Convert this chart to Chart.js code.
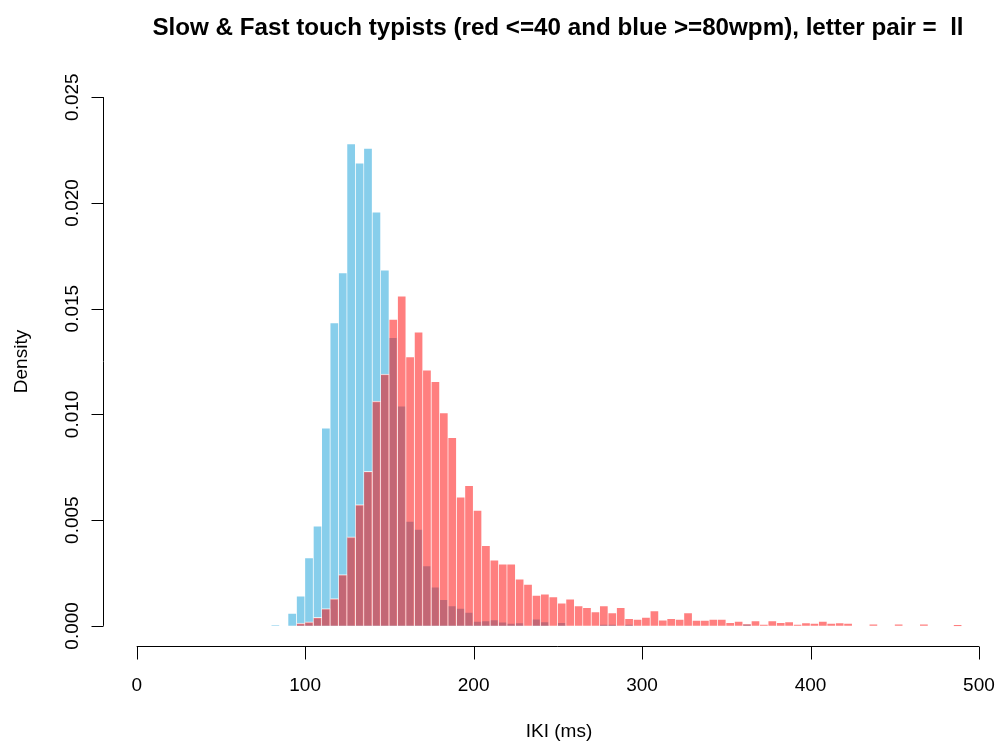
<!DOCTYPE html>
<html>
<head>
<meta charset="utf-8">
<script src="https://cdn.jsdelivr.net/npm/chart.js@4/dist/chart.umd.min.js"></script>
<style>
  html, body { margin: 0; padding: 0; background: #fff; }
  canvas { display: block; }
</style>
</head>
<body>
<canvas id="histChart" width="998" height="742"></canvas>
<script>
// bin start (ms), bins are 5 ms wide
const binStarts = [80, 85, 90, 95, 100, 105, 110, 115, 120, 125, 130, 135, 140, 145, 150, 155, 160, 165, 170, 175,
    180, 185, 190, 195, 200, 205, 210, 215, 220, 225, 230, 235, 240, 245, 250, 255, 260, 265, 270, 275,
    280, 285, 290, 295, 300, 305, 310, 315, 320, 325, 330, 335, 340, 345, 350, 355, 360, 365, 370, 375,
    380, 385, 390, 395, 400, 405, 410, 415, 420, 425, 430, 435, 440, 445, 450, 455, 460, 465, 470, 475,
    480, 485];
const binWidth = 5;

// slow typists (<=40 wpm)
const slowDensity = [0, 0, 0, 0.00013, 0.00019, 0.0004, 0.00082, 0.00129, 0.00243, 0.00421, 0.00573, 0.00731, 0.01063, 0.01191, 0.0145, 0.0156, 0.01273, 0.0139, 0.01211, 0.01156,
    0.01008, 0.00892, 0.0061, 0.00665, 0.00548, 0.00381, 0.00312, 0.00293, 0.00293, 0.00222, 0.00197, 0.00145, 0.00151, 0.00139, 0.00109, 0.00128, 0.00096, 0.00087, 0.00068, 0.00096,
    0.00063, 0.00087, 0.00036, 0.00032, 0.00041, 0.00072, 0.00028, 0.00035, 0.00032, 0.00063, 0.00027, 0.00027, 0.00032, 0.00032, 0.00017, 0.00022, 0.00011, 0.00025, 0.00008, 0.00025,
    0.00017, 0.0002, 0.00008, 0.00015, 0.00013, 0.00023, 0.00013, 0.00015, 0.00013, 0, 0, 0.0001, 0, 0, 0.0001, 0, 0, 0.0001, 0, 0,
    0, 0.00006];

// fast typists (>=80 wpm)
const fastDensity = [0.00003, 0, 0.0006, 0.00142, 0.00323, 0.00473, 0.00936, 0.01434, 0.0167, 0.02281, 0.0219, 0.02259, 0.01958, 0.01684, 0.01364, 0.0104, 0.00496, 0.00457, 0.00285, 0.00184,
    0.00126, 0.00096, 0.00084, 0.00065, 0.00022, 0.00025, 0.0003, 0.00019, 0.00013, 0.00015, 0, 0.00033, 0.0002, 0, 0.00017, 0, 0, 0, 0, 0.00008,
    0.00008, 0, 0.00008, 0, 0, 0, 0, 0, 0, 0, 0, 0, 0, 0, 0, 0, 0.00011, 0, 0, 0,
    0, 0, 0, 0, 0, 0, 0, 0, 0, 0, 0, 0, 0, 0, 0, 0, 0, 0, 0, 0,
    0, 0];

const xTicks = [0, 100, 200, 300, 400, 500];
const yTicks = [0, 0.005, 0.010, 0.015, 0.020, 0.025];
const yTickLabels = ['0.000', '0.005', '0.010', '0.015', '0.020', '0.025'];

const titleText = 'Slow & Fast touch typists (red <=40 and blue >=80wpm), letter pair =  ll';
const fontFamily = '"Liberation Sans", Arial, Helvetica, sans-serif';

function toPoints(values) {
    return binStarts.map((s, i) => ({ x: s + binWidth / 2, y: values[i] }));
}

// R style detached axes, drawn with the chart's own scales
const baseAxes = {
    id: 'baseAxes',
    afterDraw(chart) {
        const ctx = chart.ctx;
        const xs = chart.scales.x;
        const ys = chart.scales.y;
        const area = chart.chartArea;
        ctx.save();
        ctx.strokeStyle = '#000';
        ctx.fillStyle = '#000';
        ctx.lineWidth = 1;

        // x axis
        const axY = Math.round(area.bottom) - 0.5;
        ctx.beginPath();
        ctx.moveTo(xs.getPixelForValue(xTicks[0]), axY);
        ctx.lineTo(xs.getPixelForValue(xTicks[xTicks.length - 1]), axY);
        xTicks.forEach(t => {
            const px = Math.round(xs.getPixelForValue(t)) + 0.5;
            ctx.moveTo(px, axY);
            ctx.lineTo(px, axY + 13);
        });
        ctx.stroke();
        ctx.font = '19px ' + fontFamily;
        ctx.textAlign = 'center';
        ctx.textBaseline = 'alphabetic';
        xTicks.forEach(t => ctx.fillText(String(t), xs.getPixelForValue(t), 691));
        ctx.fillText('IKI (ms)', 559, 737);

        // y axis
        const axX = Math.round(area.left) + 0.5;
        ctx.beginPath();
        ctx.moveTo(axX, ys.getPixelForValue(yTicks[0]));
        ctx.lineTo(axX, ys.getPixelForValue(yTicks[yTicks.length - 1]));
        yTicks.forEach(t => {
            const py = Math.round(ys.getPixelForValue(t)) + 0.5;
            ctx.moveTo(axX, py);
            ctx.lineTo(axX - 12, py);
        });
        ctx.stroke();
        yTicks.forEach((t, i) => {
            ctx.save();
            ctx.translate(78, ys.getPixelForValue(t));
            ctx.rotate(-Math.PI / 2);
            ctx.fillText(yTickLabels[i], 0, 0);
            ctx.restore();
        });
        ctx.save();
        ctx.translate(27, (ys.getPixelForValue(0) + ys.getPixelForValue(0.025)) / 2);
        ctx.rotate(-Math.PI / 2);
        ctx.fillText('Density', 0, 0);
        ctx.restore();

        // title
        ctx.font = 'bold 24.2px ' + fontFamily;
        ctx.fillText(titleText, 558, 35);
        ctx.restore();
    }
};

new Chart(document.getElementById('histChart').getContext('2d'), {
    type: 'bar',
    data: {
        datasets: [{
            label: 'fast (>=80wpm)',
            data: toPoints(fastDensity),
            backgroundColor: '#87CEEB',
            borderColor: '#ffffff',
            borderWidth: { top: 1, right: 1, left: 0, bottom: 0 },
            borderSkipped: 'start',
            order: 2
        }, {
            label: 'slow (<=40wpm)',
            data: toPoints(slowDensity),
            backgroundColor: 'rgba(255, 0, 0, 0.5)',
            borderColor: 'rgba(255, 255, 255, 0.75)',
            borderWidth: { top: 1, right: 1, left: 0, bottom: 0 },
            borderSkipped: 'start',
            order: 1
        }]
    },
    options: {
        responsive: false,
        animation: false,
        layout: { padding: { left: 103, right: 0, top: 76, bottom: 95 } },
        datasets: { bar: { grouped: false, barPercentage: 1, categoryPercentage: 1 } },
        plugins: { legend: { display: false }, tooltip: { enabled: false }, title: { display: false } },
        scales: {
            x: { type: 'linear', min: -20, max: 511.3, offset: false, display: false },
            y: { min: -0.001, max: 0.026, display: false }
        }
    },
    plugins: [baseAxes]
});
</script>
</body>
</html>
